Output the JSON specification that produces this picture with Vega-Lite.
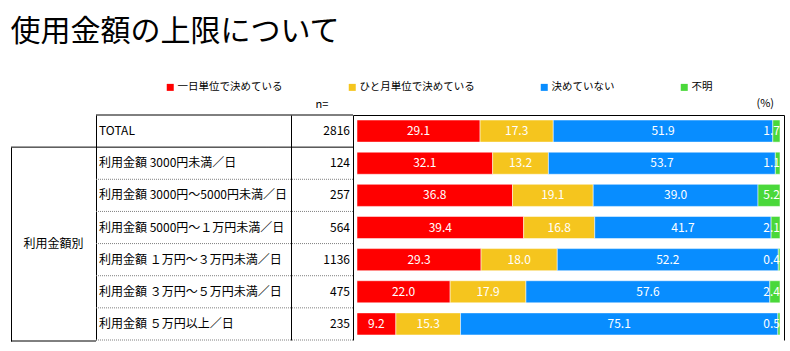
{
  "$schema": "https://vega.github.io/schema/vega-lite/v6.json",
  "padding": {"left": 10, "top": 17, "right": 5, "bottom": 5},
  "title": {"text": "使用金額の上限について", "anchor": "start", "fontSize": 30, "fontWeight": "normal", "color": "black", "font": "Noto Sans CJK JP", "offset": 35},
  "datasets": {
    "grp": [{"g": "利用金額別"}],
    "rows": [
      {"row": "TOTAL", "n": 2816},
      {"row": "利用金額 3000円未満／日", "n": 124},
      {"row": "利用金額 3000円～5000円未満／日", "n": 257},
      {"row": "利用金額 5000円～１万円未満／日", "n": 564},
      {"row": "利用金額 １万円～３万円未満／日", "n": 1136},
      {"row": "利用金額 ３万円～５万円未満／日", "n": 475},
      {"row": "利用金額 ５万円以上／日", "n": 235}
    ],
    "bars": [
      {"row": "TOTAL", "cat": "一日単位で決めている", "k": 1, "v": 29.1},
      {"row": "TOTAL", "cat": "ひと月単位で決めている", "k": 2, "v": 17.3},
      {"row": "TOTAL", "cat": "決めていない", "k": 3, "v": 51.9},
      {"row": "TOTAL", "cat": "不明", "k": 4, "v": 1.7},
      {"row": "利用金額 3000円未満／日", "cat": "一日単位で決めている", "k": 1, "v": 32.1},
      {"row": "利用金額 3000円未満／日", "cat": "ひと月単位で決めている", "k": 2, "v": 13.2},
      {"row": "利用金額 3000円未満／日", "cat": "決めていない", "k": 3, "v": 53.7},
      {"row": "利用金額 3000円未満／日", "cat": "不明", "k": 4, "v": 1.1},
      {"row": "利用金額 3000円～5000円未満／日", "cat": "一日単位で決めている", "k": 1, "v": 36.8},
      {"row": "利用金額 3000円～5000円未満／日", "cat": "ひと月単位で決めている", "k": 2, "v": 19.1},
      {"row": "利用金額 3000円～5000円未満／日", "cat": "決めていない", "k": 3, "v": 39.0},
      {"row": "利用金額 3000円～5000円未満／日", "cat": "不明", "k": 4, "v": 5.2},
      {"row": "利用金額 5000円～１万円未満／日", "cat": "一日単位で決めている", "k": 1, "v": 39.4},
      {"row": "利用金額 5000円～１万円未満／日", "cat": "ひと月単位で決めている", "k": 2, "v": 16.8},
      {"row": "利用金額 5000円～１万円未満／日", "cat": "決めていない", "k": 3, "v": 41.7},
      {"row": "利用金額 5000円～１万円未満／日", "cat": "不明", "k": 4, "v": 2.1},
      {"row": "利用金額 １万円～３万円未満／日", "cat": "一日単位で決めている", "k": 1, "v": 29.3},
      {"row": "利用金額 １万円～３万円未満／日", "cat": "ひと月単位で決めている", "k": 2, "v": 18.0},
      {"row": "利用金額 １万円～３万円未満／日", "cat": "決めていない", "k": 3, "v": 52.2},
      {"row": "利用金額 １万円～３万円未満／日", "cat": "不明", "k": 4, "v": 0.4},
      {"row": "利用金額 ３万円～５万円未満／日", "cat": "一日単位で決めている", "k": 1, "v": 22.0},
      {"row": "利用金額 ３万円～５万円未満／日", "cat": "ひと月単位で決めている", "k": 2, "v": 17.9},
      {"row": "利用金額 ３万円～５万円未満／日", "cat": "決めていない", "k": 3, "v": 57.6},
      {"row": "利用金額 ３万円～５万円未満／日", "cat": "不明", "k": 4, "v": 2.4},
      {"row": "利用金額 ５万円以上／日", "cat": "一日単位で決めている", "k": 1, "v": 9.2},
      {"row": "利用金額 ５万円以上／日", "cat": "ひと月単位で決めている", "k": 2, "v": 15.3},
      {"row": "利用金額 ５万円以上／日", "cat": "決めていない", "k": 3, "v": 75.1},
      {"row": "利用金額 ５万円以上／日", "cat": "不明", "k": 4, "v": 0.5}
    ]
  },
  "spacing": 0,
  "bounds": "flush",
  "hconcat": [
    {
      "width": 85, "height": 225,
      "data": {"name": "grp"},
      "layer": [
        {
          "mark": {"type": "text", "fontSize": 12, "color": "black"},
          "encoding": {
            "y": {"field": "g", "type": "nominal",
                  "scale": {"range": [32.14, 226], "paddingInner": 0, "paddingOuter": 0},
                  "axis": {"orient": "left", "domain": true, "domainColor": "black", "domainWidth": 1, "labels": false, "ticks": false, "grid": false, "title": null}},
            "text": {"field": "g"}
          }
        },
        {
          "mark": {"type": "rule", "color": "black", "strokeWidth": 1},
          "encoding": {"y": {"field": "g", "type": "nominal", "bandPosition": 0}}
        },
        {
          "mark": {"type": "rule", "color": "black", "strokeWidth": 1},
          "encoding": {"y": {"field": "g", "type": "nominal", "bandPosition": 1}}
        }
      ]
    },
    {
      "width": 195, "height": 225,
      "data": {"name": "rows"},
      "layer": [
        {
          "mark": {"type": "text", "align": "left", "dx": 3, "fontSize": 12, "color": "black"},
          "encoding": {
            "x": {"value": 0},
            "y": {"field": "row", "type": "nominal", "sort": null,
                  "scale": {"domain": ["TOTAL", "利用金額 3000円未満／日", "利用金額 3000円～5000円未満／日", "利用金額 5000円～１万円未満／日", "利用金額 １万円～３万円未満／日", "利用金額 ３万円～５万円未満／日", "利用金額 ５万円以上／日"], "paddingInner": 0, "paddingOuter": 0},
                  "axis": {"orient": "left", "domain": true, "domainColor": "black", "domainWidth": 1, "labels": false, "ticks": false, "grid": false, "title": null}},
            "text": {"field": "row"}
          }
        },
        {
          "mark": {"type": "rule", "strokeWidth": 1},
          "encoding": {
            "y": {"field": "row", "type": "nominal", "sort": null, "bandPosition": 0},
            "color": {"condition": {"test": "datum.row === 'TOTAL' || datum.row === '利用金額 3000円未満／日'", "value": "black"}, "value": "#808080"},
            "strokeDash": {"condition": {"test": "datum.row === 'TOTAL' || datum.row === '利用金額 3000円未満／日'", "value": [1, 0]}, "value": [1, 1]}
          }
        },
        {
          "transform": [{"filter": "datum.row === '利用金額 ５万円以上／日'"}],
          "mark": {"type": "rule", "strokeWidth": 1, "color": "#808080", "strokeDash": [1, 1]},
          "encoding": {
            "y": {"field": "row", "type": "nominal", "sort": null, "bandPosition": 1}
          }
        }
      ]
    },
    {
      "width": 62, "height": 225,
      "data": {"name": "rows"},
      "title": {"text": "n=", "anchor": "middle", "fontSize": 11, "fontWeight": "normal", "color": "black", "font": "Noto Sans CJK JP", "offset": 5},
      "layer": [
        {
          "mark": {"type": "text", "align": "right", "dx": -3, "fontSize": 12, "color": "black"},
          "encoding": {
            "x": {"value": "width"},
            "y": {"field": "row", "type": "nominal", "sort": null,
                  "scale": {"domain": ["TOTAL", "利用金額 3000円未満／日", "利用金額 3000円～5000円未満／日", "利用金額 5000円～１万円未満／日", "利用金額 １万円～３万円未満／日", "利用金額 ３万円～５万円未満／日", "利用金額 ５万円以上／日"], "paddingInner": 0, "paddingOuter": 0},
                  "axis": {"orient": "left", "domain": true, "domainColor": "black", "domainWidth": 1, "labels": false, "ticks": false, "grid": false, "title": null}},
            "text": {"field": "n"}
          }
        },
        {
          "mark": {"type": "rule", "strokeWidth": 1},
          "encoding": {
            "y": {"field": "row", "type": "nominal", "sort": null, "bandPosition": 0},
            "color": {"condition": {"test": "datum.row === 'TOTAL' || datum.row === '利用金額 3000円未満／日'", "value": "black"}, "value": "#808080"},
            "strokeDash": {"condition": {"test": "datum.row === 'TOTAL' || datum.row === '利用金額 3000円未満／日'", "value": [1, 0]}, "value": [1, 1]}
          }
        },
        {
          "transform": [{"filter": "datum.row === '利用金額 ５万円以上／日'"}],
          "mark": {"type": "rule", "strokeWidth": 1, "color": "#808080", "strokeDash": [1, 1]},
          "encoding": {
            "y": {"field": "row", "type": "nominal", "sort": null, "bandPosition": 1}
          }
        }
      ]
    },
    {
      "width": 431, "height": 225,
      "data": {"name": "bars"},
      "title": {"text": "(%)", "anchor": "end", "fontSize": 11, "fontWeight": "normal", "color": "black", "font": "Noto Sans CJK JP", "offset": 6, "dx": -10},
      "transform": [
        {"stack": "v", "groupby": ["row"], "sort": [{"field": "k", "order": "ascending"}], "as": ["v0", "v1"], "offset": "normalize"},
        {"calculate": "(datum.v0 + datum.v1) / 2", "as": "mid"}
      ],
      "resolve": {"axis": {"y": "independent"}},
      "layer": [
        {
          "mark": {"type": "bar", "stroke": "white", "strokeWidth": 1, "strokeOpacity": 0.5},
          "encoding": {
            "y": {"field": "row", "type": "nominal", "sort": null,
                  "scale": {"domain": ["TOTAL", "利用金額 3000円未満／日", "利用金額 3000円～5000円未満／日", "利用金額 5000円～１万円未満／日", "利用金額 １万円～３万円未満／日", "利用金額 ３万円～５万円未満／日", "利用金額 ５万円以上／日"], "paddingInner": 0.3125, "paddingOuter": 0.15625},
                  "axis": {"orient": "left", "domain": true, "domainColor": "black", "domainWidth": 1, "labels": false, "ticks": false, "grid": false, "title": null}},
            "x": {"field": "v0", "type": "quantitative",
                  "scale": {"domain": [0, 1], "nice": false, "padding": 4},
                  "axis": {"orient": "top", "domain": true, "domainColor": "black", "domainWidth": 1, "labels": false, "ticks": false, "grid": false, "title": null}},
            "x2": {"field": "v1"},
            "color": {"field": "cat", "type": "nominal",
                      "scale": {"domain": ["一日単位で決めている", "ひと月単位で決めている", "決めていない", "不明"], "range": ["#FF0000", "#F5C51E", "#088DFF", "#4AD83A"]},
                      "legend": {"orient": "none", "legendX": 154, "legendY": -33, "direction": "horizontal", "title": null, "symbolType": "square", "symbolSize": 49, "symbolStrokeWidth": 0, "labelFontSize": 10.5, "labelFont": "Noto Sans CJK JP", "labelColor": "black", "labelOffset": 2, "columnPadding": 64, "padding": 0, "labelLimit": 300}}
          }
        },
        {
          "transform": [{"filter": "datum.cat !== '不明'"}],
          "mark": {"type": "text", "color": "white", "fontSize": 12},
          "encoding": {
            "y": {"field": "row", "type": "nominal", "sort": null,
                  "axis": {"orient": "right", "domain": true, "domainColor": "black", "domainWidth": 1, "labels": false, "ticks": false, "grid": false, "title": null}},
            "x": {"field": "mid", "type": "quantitative"},
            "text": {"field": "v", "type": "quantitative", "format": ".1f"}
          }
        },
        {
          "transform": [{"filter": "datum.cat === '不明'"}],
          "mark": {"type": "text", "color": "white", "fontSize": 12, "align": "right", "dx": 0},
          "encoding": {
            "y": {"field": "row", "type": "nominal", "sort": null, "axis": null},
            "x": {"field": "v1", "type": "quantitative"},
            "text": {"field": "v", "type": "quantitative", "format": ".1f"}
          }
        }
      ]
    }
  ],
  "config": {
    "view": {"stroke": null},
    "font": "Noto Sans CJK JP",
    "background": "white"
  }
}
